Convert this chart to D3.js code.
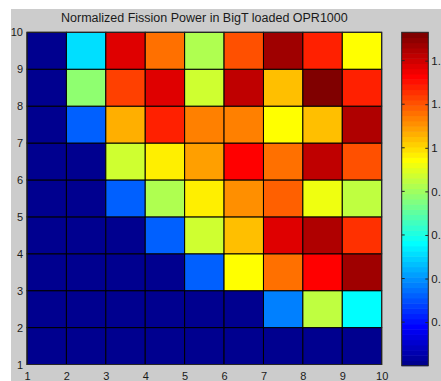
<!DOCTYPE html>
<html>
<head>
<meta charset="utf-8">
<script src="https://cdn.jsdelivr.net/npm/d3@7"></script>
<style>
  html, body { margin: 0; padding: 0; background: #ffffff; }
  svg { display: block; }
  text { font-family: Arial, "Liberation Sans", sans-serif; fill: #1a1a1a; }
</style>
</head>
<body>
<svg id="chart" width="441" height="381"></svg>
<script>
// Grid edges (pcolor style: 10 edges -> 9 x 9 cells)
const xEdges = [1, 2, 3, 4, 5, 6, 7, 8, 9, 10];
const yEdges = [1, 2, 3, 4, 5, 6, 7, 8, 9, 10];

// Normalized fission power per cell, one array per row (row y=1 at the bottom)
const row1 = [0.00, 0.00, 0.00, 0.00, 0.00, 0.00, 0.00, 0.00, 0.00];
const row2 = [0.00, 0.00, 0.00, 0.00, 0.00, 0.00, 0.371, 0.849, 0.562];
const row3 = [0.00, 0.00, 0.00, 0.00, 0.323, 0.944, 1.159, 1.327, 1.470];
const row4 = [0.00, 0.00, 0.00, 0.323, 0.873, 1.040, 1.375, 1.446, 1.255];
const row5 = [0.00, 0.00, 0.323, 0.825, 0.968, 1.112, 1.183, 0.920, 0.849];
const row6 = [0.00, 0.00, 0.873, 0.968, 1.088, 1.327, 1.159, 1.422, 1.207];
const row7 = [0.00, 0.323, 1.064, 1.279, 1.136, 1.136, 0.944, 1.040, 1.446];
const row8 = [0.00, 0.777, 1.231, 1.375, 0.873, 1.422, 1.040, 1.518, 1.279];
const row9 = [0.00, 0.514, 1.375, 1.159, 0.825, 1.207, 1.470, 1.279, 0.944];
const rows = [row1, row2, row3, row4, row5, row6, row7, row8, row9];

// Colour limits and colour-bar ticks; the labels run off the right edge of
// the figure, so only their leading characters are printed
const cLimits = [0, 1.53];
const cbarTicks = [0.2, 0.4, 0.6, 0.8, 1.0, 1.2, 1.4];
const cbarTickLabels = ["0.", "0.", "0.", "0.", "1", "1.", "1."];

const titleText = "Normalized Fission Power in BigT loaded OPR1000";

// 64-level jet colormap
function jet(m) {
  const n = Math.ceil(m / 4);
  const u = [];
  for (let i = 1; i <= n; i++) u.push(i / n);
  for (let i = 1; i < n; i++) u.push(1);
  for (let i = n; i >= 1; i--) u.push(i / n);
  const off = Math.ceil(n / 2) - (m % 4 === 1 ? 1 : 0);
  const J = Array.from({ length: m }, () => [0, 0, 0]);
  u.forEach((v, k) => {
    const g = off + k + 1, r = g + n, b = g - n;
    if (r >= 1 && r <= m) J[r - 1][0] = v;
    if (g >= 1 && g <= m) J[g - 1][1] = v;
    if (b >= 1 && b <= m) J[b - 1][2] = v;
  });
  return J.map(c => d3.rgb(c[0] * 255, c[1] * 255, c[2] * 255).formatHex());
}
const jetColors = jet(64);

const svg = d3.select("#chart");
const W = 441, H = 381;

// figure background
svg.append("rect").attr("x", 11).attr("y", 9).attr("width", W - 11).attr("height", H - 9)
  .attr("fill", "#cccccc");

const x = d3.scaleLinear().domain([1, 10]).range([27, 381.7]);
const y = d3.scaleLinear().domain([1, 10]).range([364.5, 32.3]);
const color = d3.scaleQuantize().domain(cLimits).range(jetColors);

// cells
const cells = [];
rows.forEach((row, j) => row.forEach((v, i) => cells.push({
  x0: xEdges[i], x1: xEdges[i + 1], y0: yEdges[j], y1: yEdges[j + 1], v
})));

svg.append("g").selectAll("rect").data(cells).join("rect")
  .attr("x", d => x(d.x0))
  .attr("y", d => y(d.y1))
  .attr("width", d => x(d.x1) - x(d.x0))
  .attr("height", d => y(d.y0) - y(d.y1))
  .attr("fill", d => color(d.v))
  .attr("stroke", "#000")
  .attr("stroke-width", 1);

// axis box
svg.append("rect")
  .attr("x", x(1)).attr("y", y(10))
  .attr("width", x(10) - x(1)).attr("height", y(1) - y(10))
  .attr("fill", "none").attr("stroke", "#262626").attr("stroke-width", 1);

// axes
const xAxis = svg.append("g").attr("transform", `translate(0,${y(1)})`)
  .call(d3.axisBottom(x).tickValues(xEdges).tickSize(0).tickPadding(8).tickFormat(d3.format("d")));
const yAxis = svg.append("g").attr("transform", `translate(${x(1)},0)`)
  .call(d3.axisLeft(y).tickValues(yEdges).tickSize(0).tickPadding(4).tickFormat(d3.format("d")));
[xAxis, yAxis].forEach(a => {
  a.select(".domain").remove();
  a.selectAll("text").attr("font-size", 11).attr("font-family", "Arial, 'Liberation Sans', sans-serif").attr("fill", "#1a1a1a");
});

// title
svg.append("text")
  .attr("x", (x(1) + x(10)) / 2).attr("y", 21.5)
  .attr("text-anchor", "middle").attr("font-size", 12.5)
  .text(titleText);

// colour bar
const cb = { x: 401.7, w: 26.6 };
const cy = d3.scaleLinear().domain(cLimits).range([365.7, 32.3]);
const bands = jetColors.map((c, i) => ({
  lo: cLimits[0] + (cLimits[1] - cLimits[0]) * i / jetColors.length,
  hi: cLimits[0] + (cLimits[1] - cLimits[0]) * (i + 1) / jetColors.length,
  c
}));
svg.append("g").selectAll("rect").data(bands).join("rect")
  .attr("x", cb.x).attr("width", cb.w)
  .attr("y", d => cy(d.hi)).attr("height", d => cy(d.lo) - cy(d.hi) + 0.5)
  .attr("fill", d => d.c);
svg.append("rect")
  .attr("x", cb.x).attr("y", cy(cLimits[1]))
  .attr("width", cb.w).attr("height", cy(cLimits[0]) - cy(cLimits[1]))
  .attr("fill", "none").attr("stroke", "#262626").attr("stroke-width", 1);

// colour bar ticks (inside marks on both edges) and labels
const cbAxis = svg.append("g").attr("transform", `translate(${cb.x + cb.w},0)`)
  .call(d3.axisRight(cy).tickValues(cbarTicks).tickSize(-3).tickPadding(3)
    .tickFormat((d, i) => cbarTickLabels[i]));
cbAxis.select(".domain").remove();
cbAxis.selectAll("line").attr("stroke", "#262626");
cbAxis.selectAll("text").attr("font-size", 11.5).attr("fill", "#1a1a1a")
  .attr("font-family", "Arial, 'Liberation Sans', sans-serif");
svg.append("g").selectAll("line").data(cbarTicks).join("line")
  .attr("x1", cb.x).attr("x2", cb.x + 3)
  .attr("y1", d => cy(d)).attr("y2", d => cy(d))
  .attr("stroke", "#262626");
</script>
</body>
</html>
